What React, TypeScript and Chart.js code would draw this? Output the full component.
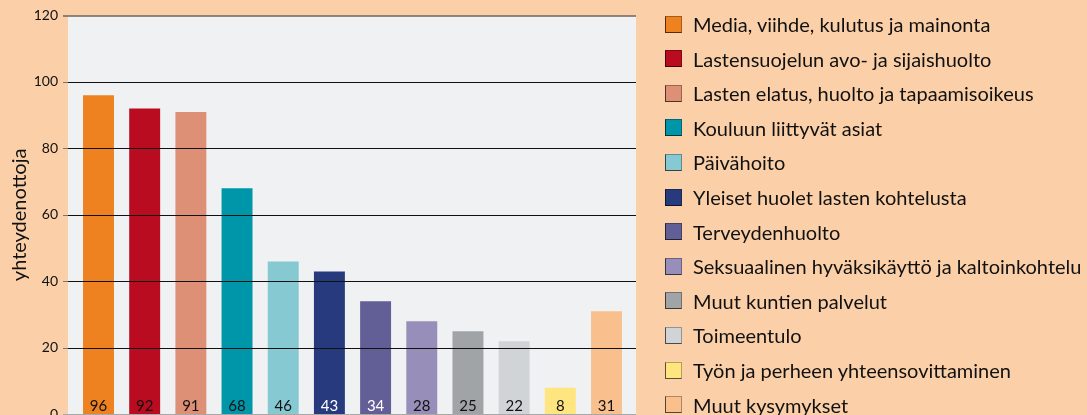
import React, { useEffect, useRef } from "react";
import { Chart, registerables } from "chart.js";

Chart.register(...registerables);

const categories = [
  "Media, viihde, kulutus ja mainonta",
  "Lastensuojelun avo- ja sijaishuolto",
  "Lasten elatus, huolto ja tapaamisoikeus",
  "Kouluun liittyvät asiat",
  "Päivähoito",
  "Yleiset huolet lasten kohtelusta",
  "Terveydenhuolto",
  "Seksuaalinen hyväksikäyttö ja kaltoinkohtelu",
  "Muut kuntien palvelut",
  "Toimeentulo",
  "Työn ja perheen yhteensovittaminen",
  "Muut kysymykset",
];
const values = [96, 92, 91, 68, 46, 43, 34, 28, 25, 22, 8, 31];
const barColors = [
  "#EE8220", "#BA0C20", "#DE9077", "#0096AA", "#86C9D2", "#283A7E",
  "#625E96", "#978FB9", "#A0A4A7", "#D1D4D7", "#FFE580", "#F9C08E",
];
const valueLabelColors = [
  "#111", "#111", "#111", "#111", "#111", "#fff",
  "#fff", "#111", "#111", "#111", "#111", "#111",
];
const yTitle = "yhteydenottoja";
const yMin = 0;
const yMax = 120;
const yStep = 20;

const FONT = "Lato, 'Open Sans', sans-serif";

export default function App() {
  const ref = useRef<HTMLCanvasElement | null>(null);

  useEffect(() => {
    document.body.style.margin = "0";
    const canvas = ref.current;
    if (!canvas) return;

    const plotDeco = {
      id: "plotDeco",
      beforeDatasetsDraw(chart: any) {
        const { ctx } = chart;
        const y = chart.scales.y;
        ctx.save();
        ctx.fillStyle = "#F0F1F3";
        const top = y.getPixelForValue(yMax);
        const bot = y.getPixelForValue(yMin);
        ctx.fillRect(68, top, 636 - 68, bot - top);
        ctx.restore();
      },
      afterDatasetsDraw(chart: any) {
        const { ctx } = chart;
        const y = chart.scales.y;
        ctx.save();
        for (let v = yMin; v <= yMax; v += yStep) {
          const py = Math.round(y.getPixelForValue(v)) + 0.5;
          if (v === yMax) {
            ctx.strokeStyle = "#6E6259";
            ctx.lineWidth = 1.5;
            ctx.beginPath();
            ctx.moveTo(63, py - 0.5);
            ctx.lineTo(636, py - 0.5);
            ctx.stroke();
          } else if (v === yMin) {
            ctx.strokeStyle = "#A8A8A8";
            ctx.lineWidth = 1;
            ctx.beginPath();
            ctx.moveTo(63, py);
            ctx.lineTo(636, py);
            ctx.stroke();
          } else {
            ctx.lineWidth = 1;
            ctx.strokeStyle = "#777";
            ctx.beginPath();
            ctx.moveTo(63, py);
            ctx.lineTo(68, py);
            ctx.stroke();
            ctx.strokeStyle = "#111";
            ctx.beginPath();
            ctx.moveTo(68, py);
            ctx.lineTo(636, py);
            ctx.stroke();
          }
        }
        // value labels
        const meta = chart.getDatasetMeta(0);
        ctx.font = `15px ${FONT}`;
        ctx.textAlign = "center";
        ctx.textBaseline = "middle";
        meta.data.forEach((bar: any, i: number) => {
          ctx.fillStyle = valueLabelColors[i];
          ctx.fillText(String(values[i]), bar.x, y.bottom - 8.5);
        });
        // y axis title
        ctx.translate(20, (y.top + y.bottom) / 2);
        ctx.rotate(-Math.PI / 2);
        ctx.fillStyle = "#111";
        ctx.font = `20px ${FONT}`;
        ctx.fillText(yTitle, 0, 0);
        ctx.restore();
      },
    };

    const chart = new Chart(canvas, {
      type: "bar",
      data: {
        labels: categories,
        datasets: [
          {
            data: values,
            backgroundColor: barColors,
            borderWidth: 0,
            barPercentage: 0.67,
            categoryPercentage: 1,
          },
        ],
      },
      options: {
        responsive: false,
        animation: false,
        layout: { padding: { top: 15.5, right: 457.4, bottom: 20.7, left: 0 } },
        plugins: { legend: { display: false }, tooltip: { enabled: false } },
        scales: {
          x: { display: false },
          y: {
            min: yMin,
            max: yMax,
            ticks: {
              stepSize: yStep,
              padding: 17.4,
              color: "#111",
              font: { family: FONT, size: 14 },
            },
            grid: { display: false, drawTicks: false },
            border: { display: false },
            title: { display: false },
            afterFit: (s: any) => {
              s.width = 75.4;
              s.paddingTop = 0;
              s.paddingBottom = 0;
            },
          },
        },
      },
      plugins: [plotDeco],
    });
    return () => chart.destroy();
  }, []);

  return (
    <div
      style={{
        position: "fixed",
        left: 0,
        top: 0,
        width: 1087,
        height: 415,
        overflow: "hidden",
        background: "#FBD0A8",
      }}
    >
      <canvas ref={ref} width={1087} height={435} style={{ position: "absolute", left: 0, top: 0 }} />
      {categories.map((c, i) => (
        <div
          key={c}
          style={{
            position: "absolute",
            left: 665,
            top: 24 + 34.6 * i - 12,
            height: 24,
            display: "flex",
            alignItems: "center",
            fontFamily: FONT,
            fontSize: 20,
            color: "#111",
            whiteSpace: "nowrap",
          }}
        >
          <span
            style={{
              display: "inline-block",
              width: 15,
              height: 15,
              background: barColors[i],
              borderLeft: "1px solid rgba(0,0,0,0.65)",
              borderBottom: "1px solid rgba(0,0,0,0.65)",
              borderTop: "1px solid rgba(0,0,0,0.3)",
              borderRight: "1px solid rgba(0,0,0,0.3)",
              marginRight: 11,
              flex: "none",
            }}
          />
          <span>{c}</span>
        </div>
      ))}
    </div>
  );
}
